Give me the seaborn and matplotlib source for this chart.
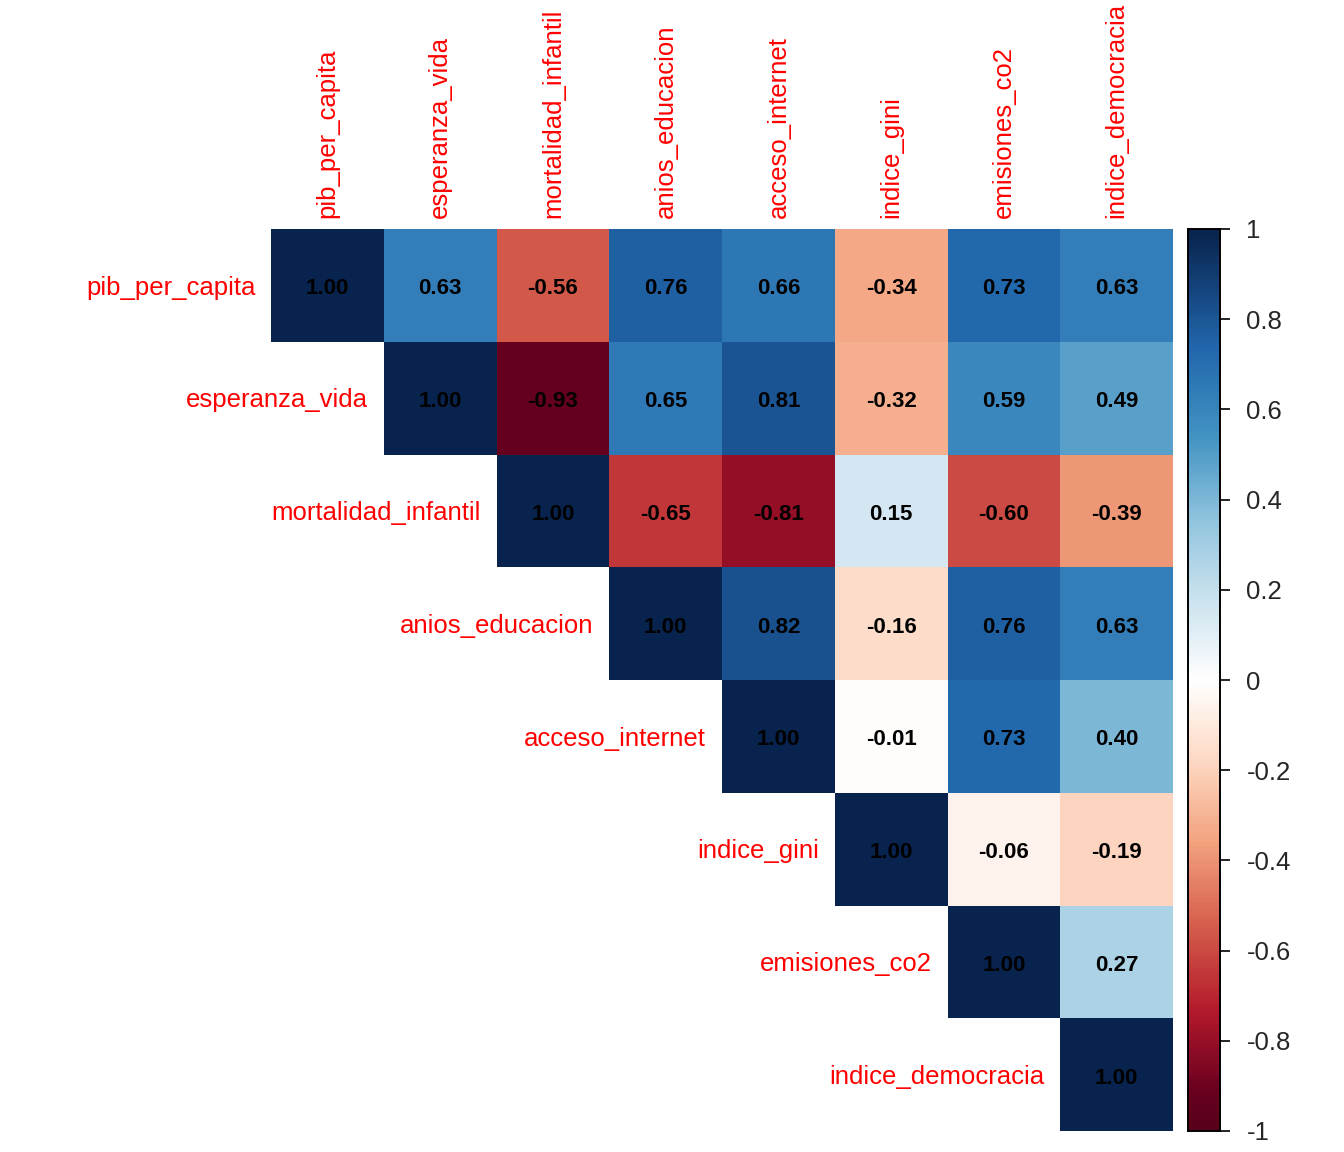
import numpy as np
import pandas as pd
import matplotlib
matplotlib.use('Agg')
import matplotlib.pyplot as plt
from matplotlib.colors import LinearSegmentedColormap
import seaborn as sns

variables = ["pib_per_capita", "esperanza_vida", "mortalidad_infantil", "anios_educacion",
             "acceso_internet", "indice_gini", "emisiones_co2", "indice_democracia"]

# upper triangle rows
row_pib = [1.00, 0.63, -0.56, 0.76, 0.66, -0.34, 0.73, 0.63]
row_vida = [1.00, -0.93, 0.65, 0.81, -0.32, 0.59, 0.49]
row_mort = [1.00, -0.65, -0.81, 0.15, -0.60, -0.39]
row_educ = [1.00, 0.82, -0.16, 0.76, 0.63]
row_inet = [1.00, -0.01, 0.73, 0.40]
row_gini = [1.00, -0.06, -0.19]
row_co2 = [1.00, 0.27]
row_demo = [1.00]
rows = [row_pib, row_vida, row_mort, row_educ, row_inet, row_gini, row_co2, row_demo]

n = len(variables)
mat = np.full((n, n), np.nan)
for i, r in enumerate(rows):
    mat[i, i:] = r
    mat[i:, i] = r
df = pd.DataFrame(mat, index=variables, columns=variables)
mask = np.tril(np.ones((n, n), dtype=bool), k=-1)

# RdBu-like ramp, anchors nudged to match the reference's darker tones
stops = [-1.0, -0.92, -0.74, -0.54, -0.35, -0.17, 0.0, 0.16, 0.35, 0.54, 0.74, 1.0]
hexes = ["#58001A", "#67001F", "#B2182B", "#D6604D", "#F4A582", "#FDDBC7", "#FFFFFF",
         "#D1E5F0", "#92C5DE", "#4393C3", "#2166AC", "#08234D"]
cmap = LinearSegmentedColormap.from_list(
    "col2", [((s + 1) / 2, c) for s, c in zip(stops, hexes)], N=256)

sns.set_style("white")
plt.rcParams['font.family'] = ['Liberation Sans', 'DejaVu Sans']

fig = plt.figure(figsize=(13.44, 11.52), dpi=100)
ax = fig.add_axes([271 / 1344, 1 - 1131 / 1152, 902 / 1344, 902 / 1152])
cax = fig.add_axes([1188 / 1344, 1 - 1131 / 1152, 32 / 1344, 902 / 1152])

sns.heatmap(df, mask=mask, cmap=cmap, vmin=-1, vmax=1, annot=True, fmt=".2f",
            annot_kws={"fontsize": 16, "fontweight": "bold", "color": "black"},
            linewidths=0, cbar_ax=cax, ax=ax)
for t in ax.texts:
    x, y = t.get_position()
    t.set_position((x, y + 0.03))

ax.xaxis.tick_top()
ax.set_xticks(np.arange(n) + 0.5)
ax.set_xticklabels(variables, rotation=90, color="red", fontsize=18.5, va="bottom")
ax.tick_params(axis="x", length=0, pad=8)
ax.set_yticks([])
ax.set_xlabel("")
ax.set_ylabel("")
for i, name in enumerate(variables):
    ax.text(i - 0.14, i + 0.52, name, ha="right", va="center", color="red", fontsize=18.5)

ticks = np.round(np.arange(-1, 1.01, 0.2), 1)
cax.set_yticks(ticks)
cax.set_yticklabels([("%g" % t) if t != 0 else "0" for t in ticks])
cax.tick_params(axis="y", length=7, width=1.2, labelsize=18.5, pad=12, color="black")
for s in cax.spines.values():
    s.set_visible(True)
    s.set_color("black")
    s.set_linewidth(1.2)

fig.savefig("out.png", dpi=100)
